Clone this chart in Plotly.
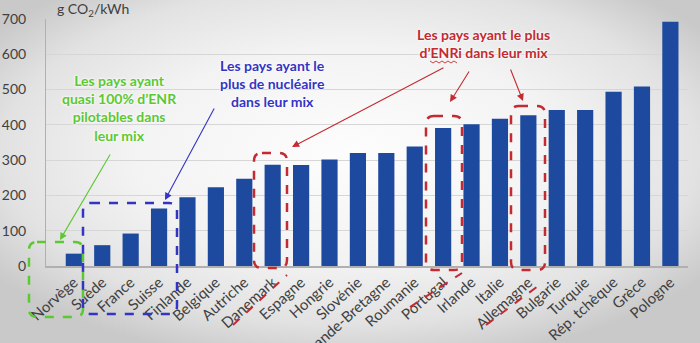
import urllib.parse
import plotly.graph_objects as go

# Carbon intensity of electricity by country (g CO2 / kWh)
countries = [
    "Norvège", "Suède", "France", "Suisse", "Finlande", "Belgique", "Autriche",
    "Danemark", "Espagne", "Hongrie", "Slovénie", "Grande-Bretagne", "Roumanie",
    "Portugal", "Irlande", "Italie", "Allemagne", "Bulgarie", "Turquie",
    "Rép. tchèque", "Grèce", "Pologne",
]
co2 = [35, 59, 92, 163, 195, 223, 247, 287, 286, 302, 320, 320, 339,
       391, 402, 417, 427, 442, 442, 494, 509, 692]
y_ticks = [0, 100, 200, 300, 400, 500, 600, 700]

W, H = 700, 343
L, R, T, B = 46, 688, 19, 266  # plot area in pixels


def px(x, y):
    """Pixel position -> paper coordinates."""
    return (x - L) / (R - L), (B - y) / (B - T)


def rounded_box(x0, y0, x1, y1, r=8):
    pts = [
        ("M", [(x0 + r, y0)]), ("L", [(x1 - r, y0)]), ("Q", [(x1, y0), (x1, y0 + r)]),
        ("L", [(x1, y1 - r)]), ("Q", [(x1, y1), (x1 - r, y1)]),
        ("L", [(x0 + r, y1)]), ("Q", [(x0, y1), (x0, y1 - r)]),
        ("L", [(x0, y0 + r)]), ("Q", [(x0, y0), (x0 + r, y0)]),
    ]
    out = []
    for cmd, ps in pts:
        coords = []
        for a, b in ps:
            u, v = px(a, b)
            coords.append(f"{u:.5f},{v:.5f}")
        out.append(cmd + " ".join(coords))
    return " ".join(out) + " Z"


GREEN = "#5cc832"
BLUE = "#3434c4"
RED = "#c42a32"
BAR = "#1d4a9e"
FONT = "Lato"

fig = go.Figure(go.Bar(
    x=countries, y=co2, marker=dict(color=BAR, line=dict(width=0)),
    width=0.57,
))

# soft grey vignette behind the whole chart
svg = (
    f"<svg xmlns='http://www.w3.org/2000/svg' width='{W}' height='{H}'>"
    "<defs><radialGradient id='g' cx='0.5' cy='0.45' r='0.62'>"
    "<stop offset='0' stop-color='#fdfdfd'/>"
    "<stop offset='0.5' stop-color='#f3f3f3'/>"
    "<stop offset='0.8' stop-color='#e2e2e2'/>"
    "<stop offset='1' stop-color='#c9c9c9'/>"
    "</radialGradient></defs>"
    f"<rect width='{W}' height='{H}' fill='url(#g)'/></svg>"
)
bg_src = "data:image/svg+xml;charset=utf-8," + urllib.parse.quote(svg)
bx, by = px(0, 0)

shapes = []
# dashed rounded frames
frames = [
    ((29, 242, 83, 317), GREEN),
    ((83, 203, 177, 314), BLUE),
    ((254, 153, 287, 268), RED),
    ((426, 116, 462, 270), RED),
    ((511, 106, 545, 270), RED),
]
for (x0, y0, x1, y1), col in frames:
    shapes.append(dict(type="path", xref="paper", yref="paper",
                       path=rounded_box(x0, y0, x1, y1),
                       line=dict(color=col, width=2.5, dash="dash"),
                       layer="above"))
# dashed underlines of the highlighted country names
for (x0, y0, x1, y1) in [(233, 325, 287, 275), (410, 307, 462, 273), (486, 325, 542, 283)]:
    u0, v0 = px(x0, y0)
    u1, v1 = px(x1, y1)
    shapes.append(dict(type="line", xref="paper", yref="paper",
                       x0=u0, y0=v0, x1=u1, y1=v1,
                       line=dict(color=RED, width=2, dash="dash")))
# spell-check squiggle under "ENRi"
sq = []
for i, xx in enumerate(range(430, 460, 3)):
    u, v = px(xx, 61 if i % 2 == 0 else 63)
    sq.append(("M" if i == 0 else "L") + f"{u:.5f},{v:.5f}")
shapes.append(dict(type="path", xref="paper", yref="paper", path=" ".join(sq),
                   line=dict(color="#d04040", width=1)))

glow = "0px 0px 3px #ffffff, 0px 0px 3px #ffffff"
annotations = []


def label(x, y, text, col):
    u, v = px(x, y)
    annotations.append(dict(
        xref="paper", yref="paper", x=u, y=v, text=text, showarrow=False,
        xanchor="center", yanchor="middle", align="center",
        font=dict(family=FONT, size=14, color=col, weight="bold", shadow=glow),
    ))


def arrow(tail, tip, col):
    u, v = px(*tip)
    annotations.append(dict(
        xref="paper", yref="paper", x=u, y=v, text="", showarrow=True,
        ax=tail[0] - tip[0], ay=tail[1] - tip[1], axref="pixel", ayref="pixel",
        arrowhead=2, arrowsize=1.3, arrowwidth=1.1, arrowcolor=col, standoff=0,
    ))


label(119, 108, "Les pays ayant<br>quasi 100% d’ENR<br>pilotables dans<br>leur mix", GREEN)
label(272, 83, "Les pays ayant le<br>plus de nucléaire<br>dans leur mix", BLUE)
label(483, 44, "Les pays ayant le plus<br>d’ENRi dans leur mix", RED)

arrow((111, 153), (60, 240), GREEN)
arrow((215, 107), (165, 200), BLUE)
arrow((445, 67), (292, 147), RED)
arrow((470, 70), (450, 102), RED)
arrow((510, 68), (523, 101), RED)

# unit label
u, v = px(55, 9)
annotations.append(dict(
    xref="paper", yref="paper", x=u, y=v, text="g CO<sub>2</sub>/kWh",
    showarrow=False, xanchor="left", yanchor="middle",
    font=dict(family=FONT, size=14, color="#404040"),
))

fig.update_layout(
    width=W, height=H,
    margin=dict(l=L, r=W - R, t=T, b=H - B, pad=0),
    paper_bgcolor="#e6e6e6",
    plot_bgcolor="rgba(0,0,0,0)",
    showlegend=False,
    font=dict(family=FONT, color="#404040"),
    images=[dict(source=bg_src, xref="paper", yref="paper", x=bx, y=by,
                 sizex=W / (R - L), sizey=H / (B - T), sizing="stretch",
                 xanchor="left", yanchor="top", layer="below")],
    shapes=shapes,
    annotations=annotations,
    xaxis=dict(
        range=[-0.98, 21.62], tickangle=-42, automargin=False,
        showline=True, linecolor="#b0b0b0", linewidth=1.5,
        showgrid=False, ticks="", tickfont=dict(family=FONT, size=15, color="#404040"),
    ),
    yaxis=dict(
        range=[0, 700], tickvals=y_ticks, automargin=False,
        showline=True, linecolor="#b0b0b0", linewidth=1,
        gridcolor="#d6d6d6", gridwidth=1, zeroline=False, ticks="",
        ticklabelstandoff=16,
        tickfont=dict(family=FONT, size=14, color="#404040"),
    ),
)

fig.write_html("out.html")
